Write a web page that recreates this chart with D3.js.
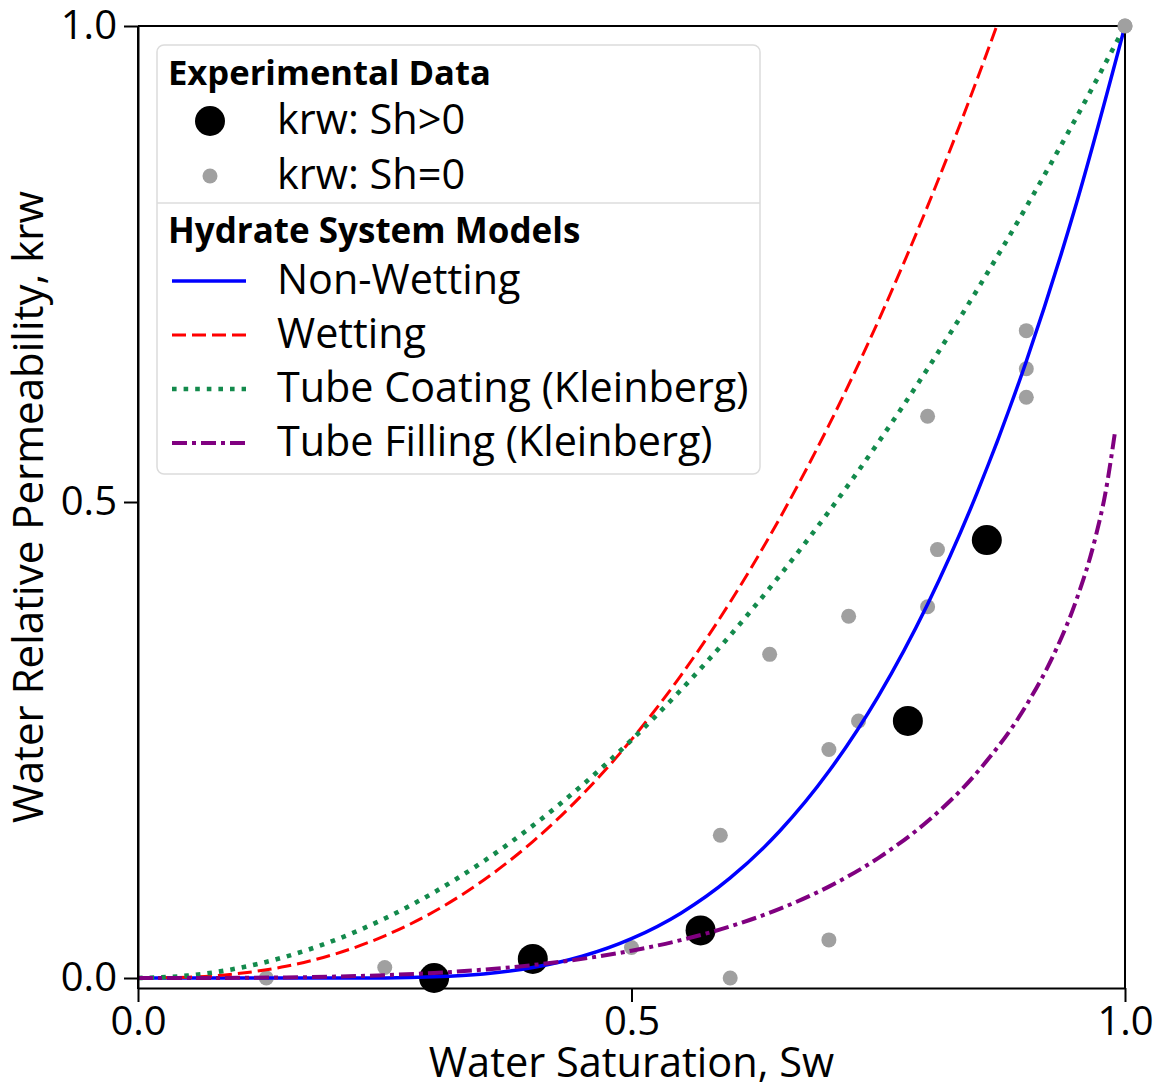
<!DOCTYPE html>
<html>
<head>
<meta charset="utf-8">
<script src="https://cdn.jsdelivr.net/npm/d3@7"></script>
<style>
  html, body { margin: 0; padding: 0; background: #fff; }
  svg { display: block; }
  text { font-family: "Open Sans", "Noto Sans", sans-serif; fill: #000; }
</style>
</head>
<body>
<svg id="chart" width="1159" height="1085"></svg>
<script>
// ---- Experimental data: water saturation Sw vs. water relative permeability krw ----
const hydrateSw  = [0.30, 0.40, 0.57, 0.78, 0.86];
const hydrateKrw = [0.00, 0.02, 0.05, 0.27, 0.46];

const noHydrateSw  = [0.13, 0.25, 0.50, 0.60, 0.59, 0.64, 0.70, 0.70, 0.72, 0.73, 0.80, 0.80, 0.81, 0.90, 0.90, 0.90, 1.00];
const noHydrateKrw = [0.00, 0.011, 0.032, 0.00, 0.15, 0.34, 0.24, 0.04, 0.38, 0.27, 0.59, 0.39, 0.45, 0.68, 0.64, 0.61, 1.00];

// ---- Hydrate system model curves ----
const nonWettingSw  = [0, 0.05, 0.10, 0.15, 0.20, 0.25, 0.30, 0.35, 0.40, 0.45, 0.50, 0.55, 0.60, 0.65, 0.70, 0.75, 0.80, 0.85, 0.90, 0.95, 1.00];
const nonWettingKrw = [0, 0, 0, 0, 0, 0.0001, 0.0012, 0.0043, 0.0110, 0.0228, 0.0413, 0.0681, 0.1051, 0.1541, 0.2171, 0.2959, 0.3926, 0.5093, 0.6479, 0.8108, 1.00];

const wettingSw  = [0, 0.05, 0.10, 0.15, 0.20, 0.25, 0.30, 0.35, 0.40, 0.45, 0.50, 0.55, 0.60, 0.65, 0.70, 0.75, 0.80, 0.85, 0.90, 0.95];
const wettingKrw = [0, 0.0008, 0.0045, 0.0123, 0.0253, 0.0443, 0.0698, 0.1027, 0.1433, 0.1924, 0.2504, 0.3177, 0.3949, 0.4825, 0.5807, 0.6900, 0.8108, 0.9435, 1.0885, 1.246];

const coatingSw  = [0, 0.05, 0.10, 0.15, 0.20, 0.25, 0.30, 0.35, 0.40, 0.45, 0.50, 0.55, 0.60, 0.65, 0.70, 0.75, 0.80, 0.85, 0.90, 0.95, 1.00];
const coatingKrw = [0, 0.0025, 0.010, 0.0225, 0.040, 0.0625, 0.090, 0.1225, 0.160, 0.2025, 0.250, 0.3025, 0.360, 0.4225, 0.490, 0.5625, 0.640, 0.7225, 0.810, 0.9025, 1.00];

const fillingSw  = [0, 0.05, 0.10, 0.15, 0.20, 0.25, 0.30, 0.35, 0.40, 0.45, 0.50, 0.55, 0.60, 0.65, 0.70, 0.75, 0.80, 0.85, 0.90, 0.93, 0.95, 0.97, 0.98, 0.99];
const fillingKrw = [0, 0.0000, 0.0002, 0.0006, 0.0015, 0.0030, 0.0053, 0.0088, 0.0136, 0.0201, 0.0287, 0.0398, 0.0542, 0.0726, 0.0960, 0.1260, 0.1647, 0.2158, 0.2865, 0.3446, 0.3950, 0.4625, 0.5086, 0.5743];

// ---- Axis ticks and labels ----
const xTicks = [0, 0.5, 1.0];
const yTicks = [0, 0.5, 1.0];
const xTitle = "Water Saturation, Sw";
const yTitle = "Water Relative Permeability, krw";

const dataTitle  = "Experimental Data";
const modelTitle = "Hydrate System Models";
const dataLabels  = ["krw: Sh>0", "krw: Sh=0"];
const modelLabels = ["Non-Wetting", "Wetting", "Tube Coating (Kleinberg)", "Tube Filling (Kleinberg)"];

// ---- Styles ----
const modelStyles = [
  { color: "#0000ff", width: 3.5, dash: null },
  { color: "#ff0000", width: 3,   dash: "14,6" },
  { color: "#138a4c", width: 4.6, dash: "4.6,7" },
  { color: "#800080", width: 4,   dash: "15,5,4,5" }
];
const pointStyles = [
  { color: "#000000", r: 15 },
  { color: "#a0a0a0", r: 7.5 }
];

const svg = d3.select("#chart");
const L = 138, R = 1125, T = 26, B = 988;

const x = d3.scaleLinear().domain([0, 1]).range([L, R]);
const y = d3.scaleLinear().domain([-0.0105, 1]).range([B, T]);

svg.append("defs").append("clipPath").attr("id", "plotClip")
  .append("rect").attr("x", L).attr("y", T).attr("width", R - L).attr("height", B - T);

// scatter points (drawn below the model curves)
const dataSets = [
  { sw: hydrateSw, krw: hydrateKrw, style: pointStyles[0] },
  { sw: noHydrateSw, krw: noHydrateKrw, style: pointStyles[1] }
];
const pts = svg.append("g");
[dataSets[1], dataSets[0]].forEach(ds => {
  pts.append("g").selectAll("circle")
    .data(ds.sw.map((s, i) => [s, ds.krw[i]]))
    .join("circle")
    .attr("cx", d => x(d[0]))
    .attr("cy", d => y(d[1]))
    .attr("r", ds.style.r)
    .attr("fill", ds.style.color);
});

// model curves
const models = [
  [nonWettingSw, nonWettingKrw],
  [wettingSw, wettingKrw],
  [coatingSw, coatingKrw],
  [fillingSw, fillingKrw]
];
const line = d3.line().x(d => x(d[0])).y(d => y(d[1])).curve(d3.curveMonotoneX);
const curves = svg.append("g").attr("clip-path", "url(#plotClip)");
models.forEach((m, i) => {
  const st = modelStyles[i];
  curves.append("path")
    .datum(m[0].map((s, k) => [s, m[1][k]]))
    .attr("d", line)
    .attr("fill", "none")
    .attr("stroke", st.color)
    .attr("stroke-width", st.width)
    .attr("stroke-dasharray", st.dash);
});

// axes
const fmt = d3.format(".1f");
const xAxis = svg.append("g").attr("transform", `translate(0,${B})`)
  .call(d3.axisBottom(x).tickValues(xTicks).tickFormat(fmt).tickSize(14).tickSizeOuter(0).tickPadding(5));
const yAxis = svg.append("g").attr("transform", `translate(${L},0)`)
  .call(d3.axisLeft(y).tickValues(yTicks).tickFormat(fmt).tickSize(14).tickSizeOuter(0).tickPadding(7));
[xAxis, yAxis].forEach(a => {
  a.selectAll("path.domain").attr("stroke", "#000").attr("stroke-width", 2);
  a.selectAll(".tick line").attr("stroke", "#000").attr("stroke-width", 2);
  a.selectAll(".tick text").attr("font-size", 40).attr("fill", "#000")
    .style("font-family", '"Open Sans", "Noto Sans", sans-serif');
});
// frame
svg.append("line").attr("x1", L).attr("x2", L).attr("y1", T).attr("y2", B + 1)
  .attr("stroke", "#000").attr("stroke-width", 2);
svg.append("line").attr("x1", L).attr("x2", R + 1).attr("y1", T).attr("y2", T)
  .attr("stroke", "#000").attr("stroke-width", 2);
svg.append("line").attr("x1", R).attr("x2", R).attr("y1", T).attr("y2", B + 1)
  .attr("stroke", "#000").attr("stroke-width", 2);

// corner point sits above the frame
svg.append("circle").attr("cx", x(noHydrateSw[16])).attr("cy", y(noHydrateKrw[16]))
  .attr("r", pointStyles[1].r).attr("fill", pointStyles[1].color);

// axis titles
svg.append("text").attr("x", (L + R) / 2).attr("y", 1077)
  .attr("text-anchor", "middle").attr("font-size", 41.5).text(xTitle);
svg.append("text")
  .attr("transform", `translate(43,${(T + B) / 2}) rotate(-90)`)
  .attr("text-anchor", "middle").attr("font-size", 42).text(yTitle);

// legend
const lg = svg.append("g");
lg.append("rect").attr("x", 157).attr("y", 45).attr("width", 603).attr("height", 429)
  .attr("rx", 7).attr("fill", "#fff").attr("fill-opacity", 0.9)
  .attr("stroke", "#dcdcdc").attr("stroke-width", 1.5);
lg.append("line").attr("x1", 157).attr("x2", 760).attr("y1", 203).attr("y2", 203)
  .attr("stroke", "#dcdcdc").attr("stroke-width", 1.5);

lg.append("text").attr("x", 168).attr("y", 85).attr("font-size", 34.6)
  .attr("font-weight", "bold").text(dataTitle);
lg.append("text").attr("x", 168).attr("y", 243).attr("font-size", 35)
  .attr("font-weight", "bold").text(modelTitle);

const dataRowY = [121, 176];
dataLabels.forEach((lab, i) => {
  lg.append("circle").attr("cx", 210).attr("cy", dataRowY[i])
    .attr("r", pointStyles[i].r).attr("fill", pointStyles[i].color);
  lg.append("text").attr("x", 277).attr("y", dataRowY[i] + 13)
    .attr("font-size", 41.5).text(lab);
});

const modelRowY = [281, 335, 389, 443];
modelLabels.forEach((lab, i) => {
  const st = modelStyles[i];
  lg.append("line").attr("x1", 172).attr("x2", 246)
    .attr("y1", modelRowY[i]).attr("y2", modelRowY[i])
    .attr("stroke", st.color).attr("stroke-width", st.width)
    .attr("stroke-dasharray", st.dash);
  lg.append("text").attr("x", 277).attr("y", modelRowY[i] + 13)
    .attr("font-size", 41.3).text(lab);
});
</script>
</body>
</html>
